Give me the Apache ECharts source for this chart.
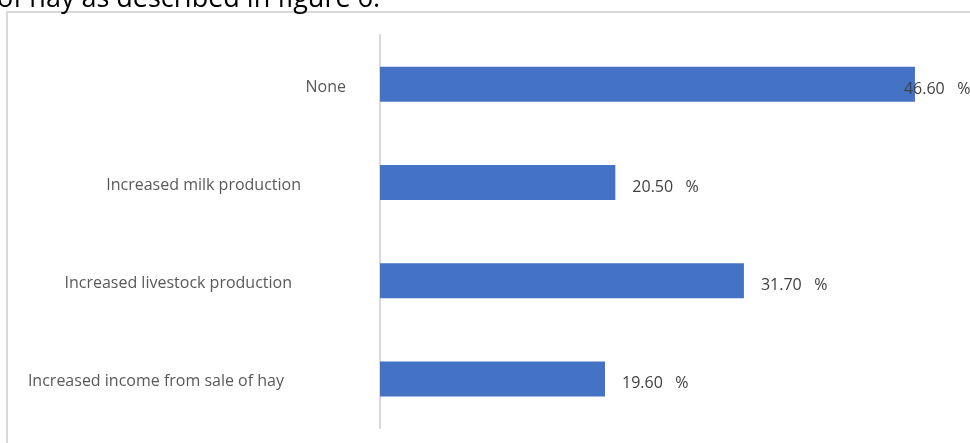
<!DOCTYPE html>
<html>
<head>
<meta charset="utf-8">
<script src="https://cdn.jsdelivr.net/npm/echarts@6/dist/echarts.min.js"></script>
<style>
  html, body { margin: 0; padding: 0; background: #fff; }
  #chart { width: 970px; height: 443px; }
</style>
</head>
<body>
<div id="chart"></div>
<script>
var categories = ['None', 'Increased milk production', 'Increased livestock production', 'Increased income from sale of hay'];
var percentages = [46.6, 20.5, 31.7, 19.6];

// the category labels in the source are not right aligned, nudge them
var labelPad = [0, 45, 54, 62];

var chart = echarts.init(document.getElementById('chart'));

var rich = {};
labelPad.forEach(function (p, i) {
    rich['p' + i] = { padding: [6, p, 0, 0], fontFamily: 'Open Sans', fontSize: 16, color: '#595959' };
});

var barData = percentages.map(function (v, i) {
    var item = { value: v };
    if (i === 0) {
        // label sits over the end of the long bar
        item.label = { offset: [-28, 5] };
    }
    return item;
});

var option = {
    animation: false,
    graphic: [
        {
            type: 'rect',
            shape: { x: 7, y: 12, width: 990, height: 460 },
            style: { fill: 'none', stroke: '#d9d9d9', lineWidth: 2 }
        },
        {
            type: 'text',
            style: {
                x: -3, y: -1,
                text: 'of hay as described in figure 6.',
                font: '27px "Open Sans"',
                fill: '#000',
                verticalAlign: 'middle'
            }
        }
    ],
    grid: { left: 380, right: 16, top: 35, bottom: 15 },
    xAxis: {
        type: 'value',
        min: 0,
        max: 50,
        show: false
    },
    yAxis: {
        type: 'category',
        inverse: true,
        data: categories,
        axisLine: { lineStyle: { color: '#d9d9d9', width: 2 } },
        axisTick: { show: false },
        axisLabel: {
            margin: 34,
            formatter: function (value, idx) {
                return '{p' + idx + '|' + value + '}';
            },
            rich: rich
        }
    },
    series: [
        {
            type: 'bar',
            data: barData,
            barWidth: 35,
            itemStyle: { color: '#4472c4' },
            label: {
                show: true,
                position: 'right',
                distance: 17,
                offset: [0, 5],
                fontFamily: 'Open Sans',
                fontSize: 16,
                color: '#404040',
                formatter: function (p) {
                    return p.value.toFixed(2) + '   %';
                }
            }
        }
    ]
};

chart.setOption(option);
</script>
</body>
</html>
